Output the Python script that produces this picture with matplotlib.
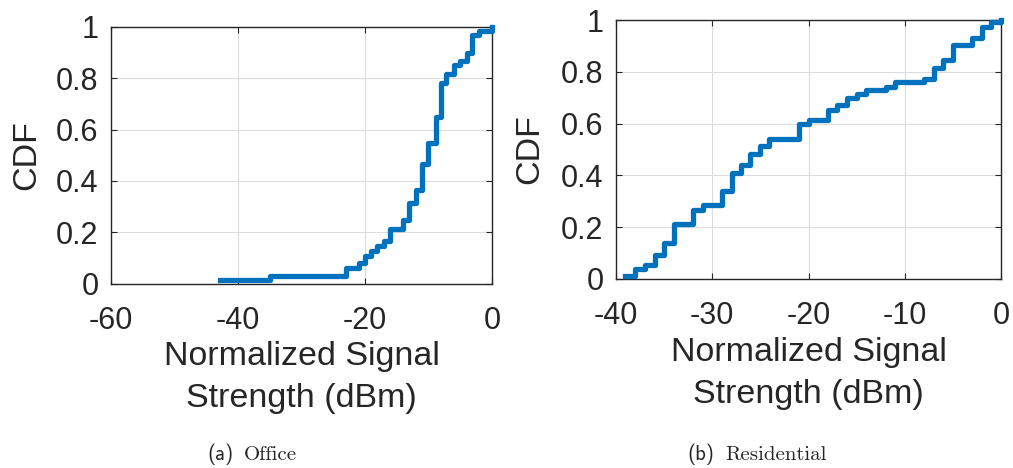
import numpy as np
import matplotlib
matplotlib.use('Agg')
import matplotlib.pyplot as plt

# step points (x = jump location, y = level after jump)
office_x = [-42.8, -34.9, -23.0, -21.0, -20.0, -19.1, -18.1, -17.0, -16.1, -14.0,
            -13.0, -12.0, -11.1, -10.1, -8.8, -8.1, -7.2, -6.0, -5.1, -4.0,
            -3.1, -2.1, 0.0]
office_y = [0.012, 0.030, 0.061, 0.078, 0.108, 0.128, 0.145, 0.166, 0.214, 0.247,
            0.314, 0.364, 0.465, 0.548, 0.649, 0.782, 0.818, 0.851, 0.866, 0.900,
            0.968, 0.983, 1.0]

res_x = [-39.1, -38.0, -37.0, -36.0, -35.0, -34.0, -32.0, -31.0, -29.0, -28.0,
         -27.0, -26.1, -25.0, -24.1, -21.0, -20.0, -18.0, -17.0, -16.0, -15.0,
         -14.0, -12.0, -11.0, -8.0, -7.0, -6.0, -5.0, -3.0, -2.0, -1.0, 0.0]
res_y = [0.012, 0.040, 0.053, 0.094, 0.139, 0.213, 0.267, 0.284, 0.338, 0.411,
         0.441, 0.483, 0.512, 0.541, 0.599, 0.614, 0.653, 0.670, 0.698, 0.715,
         0.728, 0.743, 0.760, 0.772, 0.816, 0.846, 0.904, 0.929, 0.974, 0.994, 1.0]

office_xticks = [-60, -40, -20, 0]
res_xticks = [-40, -30, -20, -10, 0]
yticks = [0, 0.2, 0.4, 0.6, 0.8, 1]
ytick_labels = ['0', '0.2', '0.4', '0.6', '0.8', '1']

LINE = '#0072BD'
INK = '#262626'

plt.rcParams['font.family'] = ['Liberation Sans', 'DejaVu Sans']
plt.rcParams['text.color'] = INK
plt.rcParams['axes.labelcolor'] = INK

fig = plt.figure(figsize=(10.13, 4.68), dpi=100)
ax1 = fig.add_axes([111 / 1013, 1 - 283.5 / 468, 381 / 1013, 256.5 / 468])
ax2 = fig.add_axes([616 / 1013, 1 - 279 / 468, 385 / 1013, 259 / 468])


def style(ax, xs, ys, xticks, ypad):
    ax.step(xs, ys, where='post', color=LINE, lw=3.8, clip_on=False, zorder=3)
    ax.set_xlim(xticks[0], xticks[-1])
    ax.set_ylim(0, 1)
    ax.set_xticks(xticks)
    ax.set_xticklabels([str(t) for t in xticks])
    ax.set_yticks(yticks)
    ax.set_yticklabels(ytick_labels)
    ax.grid(True, color='#dcdcdc', lw=0.8)
    ax.set_axisbelow(True)
    for s in ax.spines.values():
        s.set_color(INK)
        s.set_linewidth(1.0)
    ax.tick_params(direction='in', top=True, right=True, length=4, width=0.8,
                   colors=INK, labelsize=22)
    ax.tick_params(axis='x', pad=16)
    ax.tick_params(axis='y', pad=9)
    ax.set_xlabel('Normalized Signal\nStrength (dBm)', fontsize=24.5,
                  labelpad=4, linespacing=1.45)
    ax.set_ylabel('CDF', fontsize=24.5, labelpad=ypad)


style(ax1, office_x, office_y, office_xticks, 10)
style(ax2, res_x, res_y, res_xticks, 11.5)

yb = 1 - 460 / 468
fig.text(207 / 1013, yb, '(a)', family='cmss10', fontsize=15, va='baseline')
fig.text(244 / 1013, yb, 'Office', family='cmr10', fontsize=15, va='baseline')
fig.text(687 / 1013, yb, '(b)', family='cmss10', fontsize=15, va='baseline')
fig.text(725 / 1013, yb, 'Residential', family='cmr10', fontsize=15, va='baseline')

fig.savefig('out.png', dpi=100)
